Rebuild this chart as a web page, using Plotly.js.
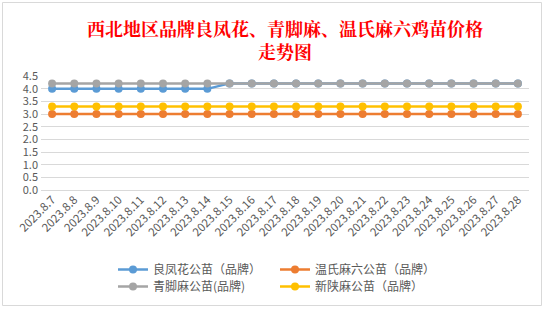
<!DOCTYPE html>
<html>
<head>
<meta charset="utf-8">
<script src="https://cdn.plot.ly/plotly-3.0.1.min.js"></script>
<style>html,body{margin:0;padding:0;background:#fff;}#chart{width:544px;height:310px;}</style>
</head>
<body>
<div id="chart"></div>
<script>
const dates = ["2023.8.7","2023.8.8","2023.8.9","2023.8.10","2023.8.11","2023.8.12","2023.8.13","2023.8.14","2023.8.15","2023.8.16","2023.8.17","2023.8.18","2023.8.19","2023.8.20","2023.8.21","2023.8.22","2023.8.23","2023.8.24","2023.8.25","2023.8.26","2023.8.27","2023.8.28"];
const liangfenghua = [4.0,4.0,4.0,4.0,4.0,4.0,4.0,4.0,4.2,4.2,4.2,4.2,4.2,4.2,4.2,4.2,4.2,4.2,4.2,4.2,4.2,4.2];
const wenshimaliu = [3.0,3.0,3.0,3.0,3.0,3.0,3.0,3.0,3.0,3.0,3.0,3.0,3.0,3.0,3.0,3.0,3.0,3.0,3.0,3.0,3.0,3.0];
const qingjiaoma = [4.2,4.2,4.2,4.2,4.2,4.2,4.2,4.2,4.2,4.2,4.2,4.2,4.2,4.2,4.2,4.2,4.2,4.2,4.2,4.2,4.2,4.2];
const xinshanma = [3.3,3.3,3.3,3.3,3.3,3.3,3.3,3.3,3.3,3.3,3.3,3.3,3.3,3.3,3.3,3.3,3.3,3.3,3.3,3.3,3.3,3.3];
const names = ["良凤花公苗（品牌）","温氏麻六公苗（品牌）","青脚麻公苗(品牌)","新陕麻公苗（品牌）"];
const colors = ["#5B9BD5","#ED7D31","#A5A5A5","#FFC000"];
const series = [liangfenghua, wenshimaliu, qingjiaoma, xinshanma];
const legendIds = ["legend","legend","legend2","legend2"];

const traces = series.map((vals, i) => ({
  type: "scatter",
  mode: "lines+markers",
  x: dates,
  y: vals,
  name: names[i],
  legend: legendIds[i],
  line: {color: colors[i], width: 2.5, shape: i === 0 ? "spline" : "linear", smoothing: 0.6},
  marker: {color: colors[i], size: 8},
  hoverinfo: "x+y+name"
}));

const font = "'Noto Sans CJK SC', 'Open Sans', sans-serif";
const px2x = p => (p - 41) / 488;
const py2y = p => (190 - p) / 114;

const layout = {
  width: 544, height: 310,
  margin: {l: 41, r: 15, t: 76, b: 120},
  paper_bgcolor: "#fff", plot_bgcolor: "#fff",
  font: {family: font, color: "#595959", size: 11},
  title: {
    text: "西北地区品牌良凤花、青脚麻、温氏麻六鸡苗价格<br>走势图",
    font: {family: "'Noto Serif CJK SC', 'Noto Sans CJK SC', serif", size: 18, color: "#FF0000", weight: "bold"},
    x: 0.5, xref: "paper", xanchor: "center",
    y: 1 - 36 / 310, yanchor: "middle", yref: "container"
  },
  xaxis: {
    type: "category",
    range: [-0.5, 21.5],
    tickangle: -45,
    tickfont: {size: 11.5, color: "#595959", family: font},
    showgrid: false,
    showline: false,
    ticks: "",
    zeroline: false,
    fixedrange: true
  },
  yaxis: {
    range: [0, 4.5],
    dtick: 0.5,
    tickformat: ".1f",
    tickfont: {size: 11, color: "#595959", family: font},
    showgrid: true,
    gridcolor: "#D9D9D9",
    gridwidth: 1,
    zeroline: true,
    zerolinecolor: "#D9D9D9",
    zerolinewidth: 1,
    showline: false,
    ticks: "",
    ticklabelstandoff: 2,
    fixedrange: true
  },
  legend: {
    orientation: "h",
    xref: "container", yref: "container",
    x: 113 / 544, y: 1 - 255 / 310,
    xanchor: "left", yanchor: "top",
    entrywidth: 117,
    font: {size: 12, color: "#595959", family: font},
    bgcolor: "rgba(0,0,0,0)",
    tracegroupgap: 0,
    itemclick: false
  },
  legend2: {
    orientation: "h",
    xref: "container", yref: "container",
    x: 113 / 544, y: 1 - 272 / 310,
    xanchor: "left", yanchor: "top",
    entrywidth: 117,
    font: {size: 12, color: "#595959", family: font},
    bgcolor: "rgba(0,0,0,0)",
    itemclick: false
  },
  shapes: [
    {type: "rect", xref: "paper", yref: "paper",
     x0: px2x(2.5), x1: px2x(541.5), y0: py2y(305.5), y1: py2y(2.5),
     line: {color: "#D9D9D9", width: 1}, fillcolor: "rgba(0,0,0,0)", layer: "below"}
  ],
  showlegend: true
};

Plotly.newPlot("chart", traces, layout, {displayModeBar: false, staticPlot: true});
</script>
</body>
</html>
